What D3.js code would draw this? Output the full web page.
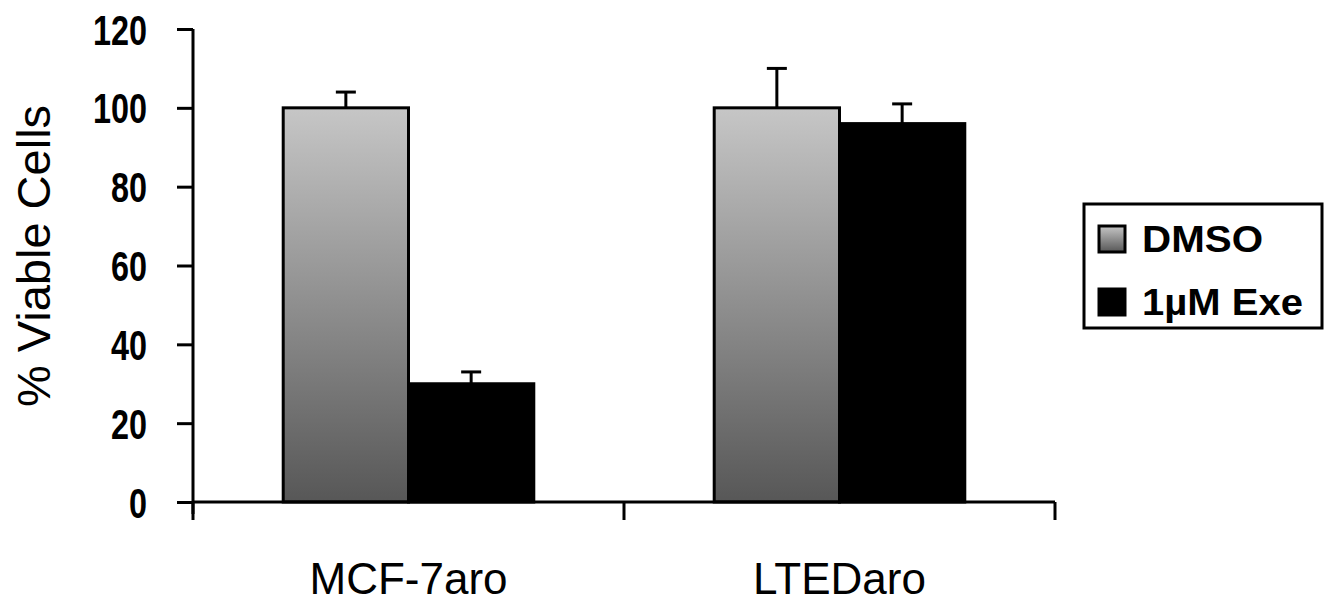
<!DOCTYPE html>
<html>
<head>
<meta charset="utf-8">
<script src="https://cdn.jsdelivr.net/npm/d3@7"></script>
<style>
  body { margin: 0; background: #fff; }
  svg { display: block; font-family: "Liberation Sans", Arial, sans-serif; }
</style>
</head>
<body>
<svg id="chart" width="1333" height="605"></svg>
<script>
// data
const categories = ['MCF-7aro', 'LTEDaro'];
const series = ['DMSO', '1\u00b5M Exe'];
const dmsoValues = [100, 100];
const dmsoErrors = [4, 10];
const exeValues = [30, 96];
const exeErrors = [3, 5];
const yTicks = [0, 20, 40, 60, 80, 100, 120];

const svg = d3.select('#chart');

// grey gradient used by DMSO bars and its legend swatch
const defs = svg.append('defs');
const grad = defs.append('linearGradient')
  .attr('id', 'dmsoGrad')
  .attr('x1', 0).attr('y1', 0).attr('x2', 0).attr('y2', 1);
grad.append('stop').attr('offset', '0%').attr('stop-color', '#c6c6c6');
grad.append('stop').attr('offset', '100%').attr('stop-color', '#575757');

const x0 = d3.scaleBand().domain(categories).range([193, 1055]).padding(0);
const x1 = d3.scaleBand().domain(series).range([0, x0.bandwidth()])
  .paddingInner(0).paddingOuter(0.72);
const y = d3.scaleLinear().domain([0, 120]).range([502, 29]);

const rows = categories.map((c, i) => ({
  cat: c,
  bars: [
    { s: series[0], v: dmsoValues[i], e: dmsoErrors[i] },
    { s: series[1], v: exeValues[i], e: exeErrors[i] }
  ]
}));

// bars
const groups = svg.append('g').selectAll('g')
  .data(rows)
  .join('g')
  .attr('transform', d => `translate(${x0(d.cat)},0)`);

groups.selectAll('rect')
  .data(d => d.bars)
  .join('rect')
  .attr('x', d => x1(d.s))
  .attr('y', d => y(d.v))
  .attr('width', x1.bandwidth())
  .attr('height', d => y(0) - y(d.v))
  .attr('fill', d => d.s === series[0] ? 'url(#dmsoGrad)' : '#000')
  .attr('stroke', '#000')
  .attr('stroke-width', 3);

// error bars (upper only)
const err = groups.selectAll('g.err')
  .data(d => d.bars)
  .join('g')
  .attr('class', 'err');

err.append('line')
  .attr('x1', d => x1(d.s) + x1.bandwidth() / 2)
  .attr('x2', d => x1(d.s) + x1.bandwidth() / 2)
  .attr('y1', d => y(d.v))
  .attr('y2', d => y(d.v + d.e))
  .attr('stroke', '#000')
  .attr('stroke-width', 3);

err.append('line')
  .attr('x1', d => x1(d.s) + x1.bandwidth() / 2 - 10)
  .attr('x2', d => x1(d.s) + x1.bandwidth() / 2 + 10)
  .attr('y1', d => y(d.v + d.e))
  .attr('y2', d => y(d.v + d.e))
  .attr('stroke', '#000')
  .attr('stroke-width', 3);

// y axis
const yAxis = svg.append('g')
  .attr('transform', 'translate(193,0)')
  .call(d3.axisLeft(y).tickValues(yTicks).tickSize(16).tickPadding(30).tickSizeOuter(0));
yAxis.select('.domain').remove();
yAxis.append('line')
  .attr('x1', 0).attr('x2', 0)
  .attr('y1', y(120)).attr('y2', y(0) + 12)
  .attr('stroke', '#000').attr('stroke-width', 3);
yAxis.selectAll('.tick line').attr('stroke-width', 3);
yAxis.selectAll('.tick text')
  .attr('fill', '#000')
  .attr('font-size', 42)
  .attr('font-weight', 'bold')
  .attr('dy', '0.36em')
  .attr('textLength', d => String(d).length * 18)
  .attr('lengthAdjust', 'spacingAndGlyphs');

// x axis: ticks at category boundaries
const xEdges = [x0.range()[0], x0(categories[1]), x0.range()[1]];
const xAxis = svg.append('g');
xAxis.append('line')
  .attr('x1', x0.range()[0]).attr('x2', x0.range()[1])
  .attr('y1', y(0)).attr('y2', y(0))
  .attr('stroke', '#000').attr('stroke-width', 3);
xAxis.selectAll('line.xt')
  .data(xEdges)
  .join('line')
  .attr('class', 'xt')
  .attr('x1', d => d).attr('x2', d => d)
  .attr('y1', y(0)).attr('y2', y(0) + 18)
  .attr('stroke', '#000').attr('stroke-width', 3);
xAxis.selectAll('text')
  .data(categories)
  .join('text')
  .attr('x', d => x0(d) + x0.bandwidth() / 2)
  .attr('y', 594)
  .attr('text-anchor', 'middle')
  .attr('font-size', 44)
  .text(d => d);

// axis title
svg.append('text')
  .attr('transform', 'translate(50,256) rotate(-90)')
  .attr('text-anchor', 'middle')
  .attr('font-size', 47)
  .text('% Viable Cells');

// legend
const legend = svg.append('g');
legend.append('rect')
  .attr('x', 1084).attr('y', 204)
  .attr('width', 238).attr('height', 124)
  .attr('fill', '#fff').attr('stroke', '#000').attr('stroke-width', 3);

const items = legend.selectAll('g.item')
  .data(series)
  .join('g')
  .attr('class', 'item')
  .attr('transform', (d, i) => `translate(1099,${226 + i * 63})`);

items.append('rect')
  .attr('width', 26).attr('height', 26)
  .attr('fill', (d, i) => i === 0 ? 'url(#dmsoGrad)' : '#000')
  .attr('stroke', '#000').attr('stroke-width', 3);

items.append('text')
  .attr('x', 43)
  .attr('y', 26)
  .attr('font-size', 36)
  .attr('font-weight', 'bold')
  .attr('textLength', (d, i) => i === 0 ? 121 : 161)
  .attr('lengthAdjust', 'spacingAndGlyphs')
  .text(d => d);
</script>
</body>
</html>
